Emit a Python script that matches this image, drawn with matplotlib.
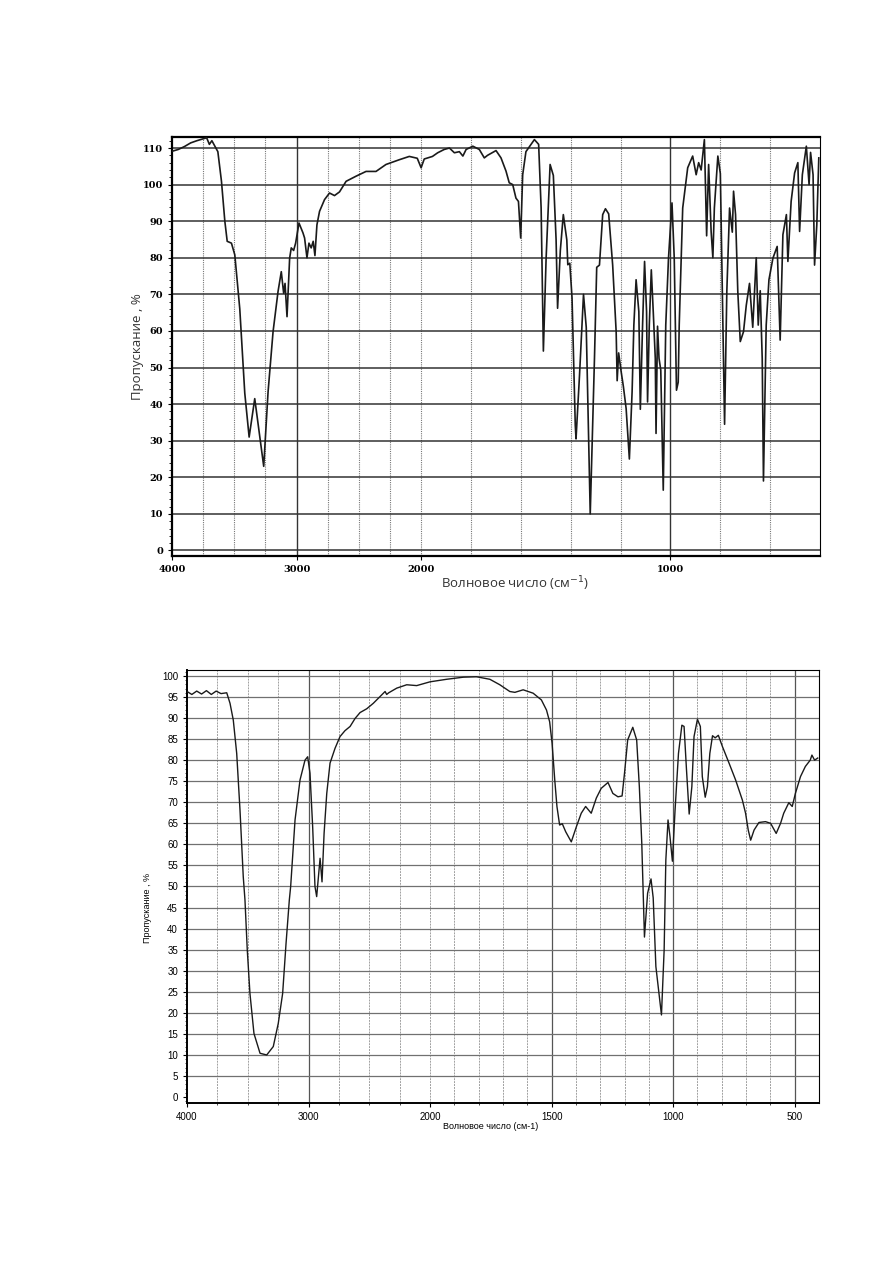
import numpy as np
import matplotlib
matplotlib.use("Agg")
import matplotlib.pyplot as plt
from matplotlib.ticker import FixedLocator, MultipleLocator

# ---- спектр 1 (верхний) ----
wn_top = [4000, 3950, 3900, 3850, 3800, 3722, 3700, 3680, 3632, 3603, 3576, 3557, 3523, 3496,
          3456, 3416, 3381, 3336, 3264, 3229, 3189, 3149, 3123, 3104, 3093, 3077,
          3056, 3043, 3024, 3008, 2981, 2963, 2949, 2936, 2917, 2901, 2883, 2867,
          2853, 2837, 2816, 2776, 2736, 2696, 2656, 2603, 2523, 2443, 2363, 2283,
          2176, 2096, 2032, 2001, 1988, 1955, 1934, 1908, 1887, 1867, 1847, 1833,
          1820, 1793, 1767, 1747, 1734, 1700, 1680, 1660, 1647, 1633, 1620, 1610,
          1601, 1593, 1580, 1546, 1529, 1519, 1510, 1499, 1483, 1470, 1459, 1453,
          1442, 1430, 1416, 1412, 1404, 1395, 1382, 1379, 1365, 1349, 1338, 1322,
          1305, 1296, 1285, 1272, 1261, 1248, 1232, 1218, 1214, 1208, 1198, 1189,
          1178, 1165, 1154, 1147, 1138, 1127, 1121, 1112, 1104, 1096, 1092, 1085,
          1077, 1069, 1061, 1058, 1052, 1046, 1039, 1029, 1019, 1008, 994, 985,
          976, 969, 965, 951, 931, 911, 897, 887, 877, 864, 855, 847, 837, 830,
          824, 810, 800, 792, 783, 774, 763, 752, 747, 739, 730, 720, 707, 696,
          683, 670, 656, 648, 640, 632, 627, 616, 605, 589, 572, 560, 549, 535,
          529, 516, 502, 489, 482, 471, 455, 444, 438, 428, 422, 413, 405]
t_top = [109.1, 109.6, 110.4, 111.4, 112.0, 112.8, 111.0, 112.0, 109.0, 100.9, 90.0, 84.5, 84.0, 80.8,
         66.0, 43.0, 31.0, 41.5, 23.0, 43.4, 59.8, 70.8, 76.2, 70.3, 73.0, 63.9,
         79.9, 82.7, 82.0, 84.0, 89.5, 88.0, 86.8, 85.4, 80.0, 84.0, 82.7, 84.5,
         80.6, 89.0, 92.7, 95.9, 97.7, 97.0, 98.0, 100.9, 102.3, 103.6, 103.6, 105.5,
         106.8, 107.7, 107.2, 104.6, 107.0, 107.7, 108.7, 109.6, 110.0, 108.7, 109.0, 107.8,
         109.6, 110.5, 109.6, 107.3, 108.0, 109.3, 107.3, 103.7, 100.5, 100.0, 96.3, 95.4,
         85.4, 102.7, 109.0, 112.3, 111.0, 93.6, 54.5, 79.9, 105.5, 102.5, 85.0, 66.2,
         82.0, 91.8, 84.9, 78.1, 78.5, 69.0, 34.2, 30.5, 47.9, 70.0, 61.0, 10.0,
         52.5, 77.4, 78.0, 91.8, 93.4, 92.0, 78.0, 59.8, 46.4, 54.0, 48.9, 44.8,
         38.8, 25.0, 43.4, 61.6, 74.0, 65.3, 38.6, 61.6, 79.0, 65.3, 40.6, 61.6,
         76.7, 65.0, 52.5, 32.0, 61.3, 52.5, 49.3, 16.5, 61.6, 79.9, 95.0, 80.0,
         43.8, 46.0, 61.6, 93.6, 104.6, 107.8, 102.7, 106.0, 104.0, 112.3, 86.0, 105.5, 87.2, 80.0,
         93.6, 107.8, 103.0, 70.8, 34.5, 70.8, 93.6, 87.0, 98.2, 91.8, 70.8, 57.1, 59.8, 67.0,
         73.0, 61.0, 80.0, 61.6, 71.0, 52.5, 19.0, 61.6, 74.0, 79.9, 83.1, 57.5, 86.3, 91.8,
         79.0, 95.4, 103.2, 106.0, 87.2, 102.7, 110.5, 100.0, 108.8, 102.7, 78.0, 89.0, 107.3]

# ---- спектр 2 (нижний) ----
wn_bot = [4000, 3960, 3920, 3880, 3840, 3800, 3760, 3720, 3673, 3646, 3619, 3591,
          3564, 3537, 3523, 3504, 3482, 3449, 3399, 3344, 3290, 3249, 3213, 3185,
          3158, 3147, 3111, 3070, 3029, 3007, 2988, 2966, 2947, 2933, 2919, 2905,
          2889, 2872, 2850, 2823, 2782, 2741, 2700, 2658, 2617, 2576, 2521, 2467,
          2412, 2370, 2357, 2340, 2274, 2192, 2110, 2000, 1932, 1863, 1809, 1754,
          1713, 1672, 1651, 1617, 1576, 1542, 1521, 1508, 1498, 1487, 1478, 1467,
          1456, 1442, 1419, 1398, 1378, 1360, 1337, 1316, 1296, 1268, 1248, 1227,
          1210, 1200, 1187, 1166, 1150, 1139, 1129, 1118, 1105, 1091, 1082, 1071,
          1048, 1037, 1030, 1021, 1013, 1003, 992, 978, 964, 955, 945, 934, 923,
          914, 900, 888, 880, 868, 859, 849, 838, 827, 814, 797, 770, 743, 715,
          702, 691, 681, 667, 647, 620, 599, 576, 558, 545, 524, 510, 497, 476,
          456, 436, 429, 418, 405]
t_bot = [96.3, 95.6, 96.4, 95.7, 96.5, 95.6, 96.4, 95.8, 96.0, 93.5, 89.5, 81.6,
         68.2, 52.3, 46.8, 34.9, 24.6, 15.1, 10.4, 10.0, 12.0, 17.5, 24.6, 36.5,
         46.8, 50.0, 65.8, 75.3, 80.0, 80.8, 76.9, 64.2, 50.0, 47.6, 52.3, 56.7,
         51.1, 62.6, 72.1, 79.3, 82.8, 85.6, 87.0, 88.0, 89.9, 91.3, 92.2, 93.5,
         95.1, 96.3, 95.6, 96.0, 97.1, 97.9, 97.7, 98.6, 99.2, 99.7, 99.8, 99.2,
         97.9, 96.3, 96.1, 96.7, 95.9, 94.3, 91.9, 89.1, 84.0, 75.3, 69.0, 64.6,
         64.9, 63.0, 60.6, 64.2, 67.4, 69.0, 67.4, 71.0, 73.3, 74.7, 72.1, 71.3,
         71.5, 76.9, 84.8, 87.8, 84.8, 73.7, 60.3, 38.0, 48.4, 51.8, 47.3, 31.0,
         19.5, 34.9, 56.3, 65.8, 61.9, 56.0, 68.2, 81.6, 88.3, 88.0, 77.7, 67.2, 73.7,
         85.6, 89.7, 88.0, 76.1, 71.2, 73.7, 81.6, 85.8, 85.3, 85.9, 83.2, 79.3, 75.3, 70.5,
         67.4, 63.4, 61.0, 63.4, 65.2, 65.4, 65.0, 62.6, 65.0, 67.4, 69.9, 69.0, 72.1, 76.1,
         78.5, 80.0, 81.2, 80.0, 80.5]


def fwd(x):
    x = np.asarray(x, dtype=float)
    return np.where(x > 2000, 2000 + (x - 2000) / 2, x)


def inv(y):
    y = np.asarray(y, dtype=float)
    return np.where(y > 2000, 2000 + (y - 2000) * 2, y)


fig = plt.figure(figsize=(8.93, 12.63), dpi=100)

# ===== верхний график =====
ax1 = fig.add_axes([0.1926, 0.5598, 0.7257, 0.3317])
ax1.set_xscale('function', functions=(fwd, inv))
ax1.set_xlim(4000, 400)
ax1.set_ylim(-1.5, 113)

vgrid_top = list(range(3750, 2000, -250)) + list(range(2000, 400, -200))
for v in vgrid_top:
    if v in (3000, 1000):
        ax1.axvline(v, color='#333333', lw=1.0, zorder=1)
    else:
        ax1.axvline(v, color='#777777', lw=0.8, ls=(0, (1, 1)), zorder=1)
for h in range(0, 111, 10):
    ax1.axhline(h, color='#333333', lw=1.1, zorder=1)

ax1.plot(wn_top, t_top, color='#1a1a1a', lw=1.2, zorder=3)

ax1.xaxis.set_major_locator(FixedLocator([4000, 3000, 2000, 1000]))
ax1.xaxis.set_minor_locator(FixedLocator([]))
ax1.yaxis.set_major_locator(MultipleLocator(10))
ax1.yaxis.set_minor_locator(MultipleLocator(2))
ax1.tick_params(axis='both', which='major', labelsize=7, length=3, width=0.8)
ax1.tick_params(axis='y', which='minor', length=2, width=0.6)
for lab in ax1.get_xticklabels() + ax1.get_yticklabels():
    lab.set_family('DejaVu Serif')
    lab.set_fontweight('bold')
for s in ('left', 'bottom', 'top'):
    ax1.spines[s].set_linewidth(1.6)
ax1.spines['right'].set_linewidth(0.8)
ax1.set_ylabel('Пропускание , %', fontsize=9.5, family='Open Sans', color='#333333')
ax1.yaxis.set_label_coords(-0.043, 0.5)
ax1.set_xlabel('Волновое число (см$^{-1}$)', fontsize=9.5, family='Open Sans', color='#333333')
ax1.xaxis.set_label_coords(0.53, -0.045)

# ===== нижний график =====
ax2 = fig.add_axes([0.2094, 0.1267, 0.7077, 0.3428])
ax2.set_xscale('function', functions=(fwd, inv))
ax2.set_xlim(4000, 400)
ax2.set_ylim(-1.4, 101.4)

vgrid_bot = list(range(3750, 2000, -250)) + list(range(2000, 400, -100))
for v in vgrid_bot:
    if v in (3000, 1500, 1000, 500):
        ax2.axvline(v, color='#555555', lw=0.9, zorder=1)
    else:
        ax2.axvline(v, color='#a0a0a0', lw=0.7, ls=(0, (2, 1)), zorder=1)
for h in range(5, 101, 5):
    ax2.axhline(h, color='#707070', lw=0.9, zorder=1)

ax2.plot(wn_bot, t_bot, color='#1a1a1a', lw=1.0, zorder=3)

ax2.xaxis.set_major_locator(FixedLocator([4000, 3000, 2000, 1500, 1000, 500]))
ax2.xaxis.set_minor_locator(FixedLocator(vgrid_bot))
ax2.yaxis.set_major_locator(MultipleLocator(5))
ax2.yaxis.set_minor_locator(MultipleLocator(1))
ax2.tick_params(axis='both', which='major', labelsize=7, length=3, width=0.8)
ax2.tick_params(axis='both', which='minor', length=1.5, width=0.5)
for lab in ax2.get_xticklabels() + ax2.get_yticklabels():
    lab.set_family('Liberation Sans')
for s in ('left', 'bottom'):
    ax2.spines[s].set_linewidth(1.4)
for s in ('top', 'right'):
    ax2.spines[s].set_linewidth(0.8)
ax2.set_ylabel('Пропускание , %', fontsize=6.5, family='Liberation Sans')
ax2.yaxis.set_label_coords(-0.055, 0.45)
ax2.set_xlabel('Волновое число (см-1)', fontsize=6.5, family='Liberation Sans', labelpad=1)
ax2.xaxis.set_label_coords(0.48, -0.045)

fig.savefig('out.png', dpi=100)
